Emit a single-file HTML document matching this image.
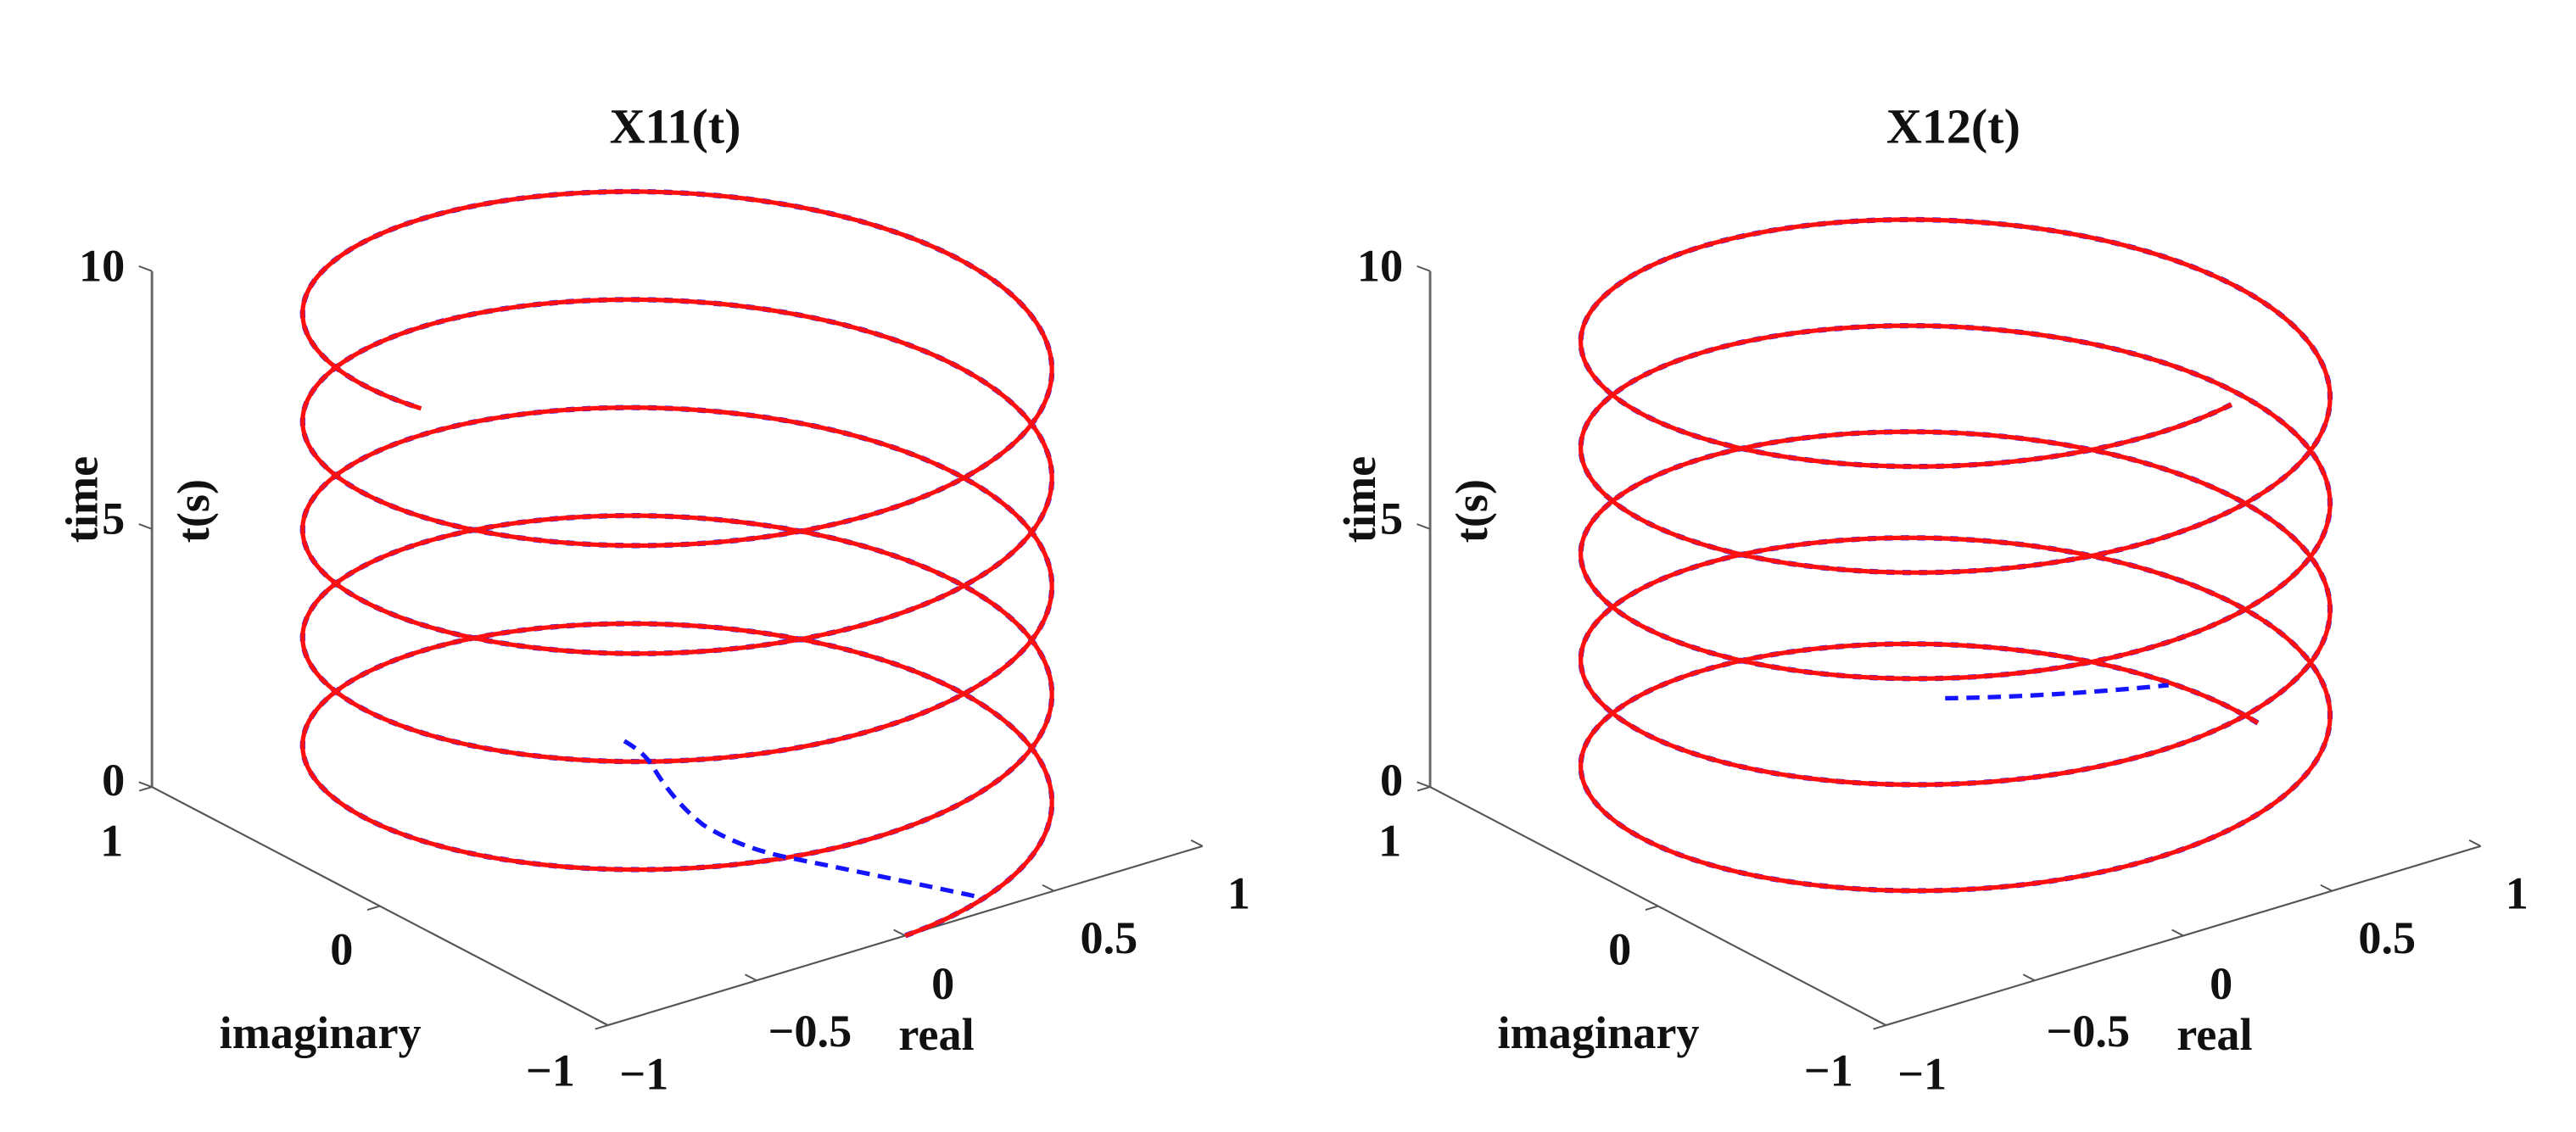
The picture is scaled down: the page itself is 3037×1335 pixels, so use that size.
<!DOCTYPE html>
<html><head><meta charset="utf-8"><style>
html,body{margin:0;padding:0;background:#fff;}
svg{display:block;}
text{font-family:"Liberation Serif",serif;font-weight:bold;fill:#111;}
</style></head><body>
<svg id="s" width="3037" height="1335" viewBox="0 0 1568 689" preserveAspectRatio="none" xmlns="http://www.w3.org/2000/svg">
<g id="g0"></g>
<g id="g1"></g>
<text x="411" y="87" font-size="30" text-anchor="middle">X11(t)</text>
<text x="1189" y="87" font-size="30" text-anchor="middle">X12(t)</text>
</svg>
<script>
(function(){
var NS="http://www.w3.org/2000/svg";
function el(g,tag,attrs,txt){var e=document.createElementNS(NS,tag);for(var k in attrs)e.setAttribute(k,attrs[k]);if(txt!==undefined)e.textContent=txt;g.appendChild(e);return e;}
function P(ox,r,i,z){var u=(1-i)/2,v=(r+1)/2;return [ox+92.5+u*277.5+v*362, 479+u*145-v*109-31.4*z];}
function axes(g,ox){
  var c=P(ox,-1,1,0),t=P(ox,-1,1,10),ie=P(ox,-1,-1,0),re=P(ox,1,-1,0);
  el(g,'line',{x1:c[0],y1:c[1],x2:t[0],y2:t[1],stroke:'#666','stroke-width':1.5});
  el(g,'polyline',{points:c.join(',')+' '+ie.join(',')+' '+re.join(','),fill:'none',stroke:'#555','stroke-width':1.1});
  [0,5,10].forEach(function(z){var p=P(ox,-1,1,z);el(g,'line',{x1:p[0],y1:p[1],x2:p[0]-8,y2:p[1]-3,stroke:'#555','stroke-width':1});});
  [1,0,-1].forEach(function(i){var p=P(ox,-1,i,0);el(g,'line',{x1:p[0],y1:p[1],x2:p[0]-7.7,y2:p[1]+2.3,stroke:'#555','stroke-width':1});});
  [-1,-0.5,0,0.5,1].forEach(function(r){var p=P(ox,r,-1,0);el(g,'line',{x1:p[0],y1:p[1],x2:p[0]-7,y2:p[1]-3.6,stroke:'#555','stroke-width':1});});
  var fs=28;
  function T(x,y,s,a){el(g,'text',{x:x+ox,y:y,'font-size':fs,'text-anchor':a||'middle'},s);}
  T(76,171,'10','end');T(76,325,'5','end');T(76,484,'0','end');T(75,521,'1','end');
  T(208,587,'0');T(335,661,'\u22121');T(392,663,'\u22121');T(493,637,'\u22120.5');T(574,608,'0');T(675,580,'0.5');T(754,553,'1');
  T(195,638,'imaginary');T(570,639,'real');
  el(g,'text',{x:0,y:0,'font-size':fs,'text-anchor':'middle',transform:'translate('+(ox+59)+',304) rotate(-90)'},'time');
  el(g,'text',{x:0,y:0,'font-size':fs,'text-anchor':'middle',transform:'translate('+(ox+127)+',311) rotate(-90)'},'t(s)');
}
function helix(g,ox,z0,z1,th0,th1){
  var d='';var N=900;
  for(var k=0;k<=N;k++){var f=k/N,z=z0+(z1-z0)*f,th=(th0+(th1-th0)*f)*Math.PI/180;var p=P(ox,Math.cos(th),Math.sin(th),z);d+=(k?'L':'M')+p[0].toFixed(2)+' '+p[1].toFixed(2);}
  el(g,'path',{d:d,fill:'none',stroke:'#1a1aff','stroke-width':3.2,'stroke-dasharray':'5 5'});
  el(g,'path',{d:d,fill:'none',stroke:'#ff1010','stroke-width':2.7,'stroke-linecap':'butt'});
}
var g0=document.getElementById('g0'),g1=document.getElementById('g1');
axes(g0,0);axes(g1,778);
helix(g0,0,0,10,-90,1629.4);
helix(g1,778,0.13,9.96,-1.3,1720);
el(g0,'path',{d:'M380 451 Q392 458 397 466 Q410 488 428 502 Q450 516 480 522 Q540 534 596 546',fill:'none',stroke:'#1414ff','stroke-width':2.7,'stroke-dasharray':'8 5'});
el(g1,'path',{d:'M1184 425 Q1250 424 1320 417',fill:'none',stroke:'#1414ff','stroke-width':2.7,'stroke-dasharray':'8 5'});
})();
</script>
</body></html>
